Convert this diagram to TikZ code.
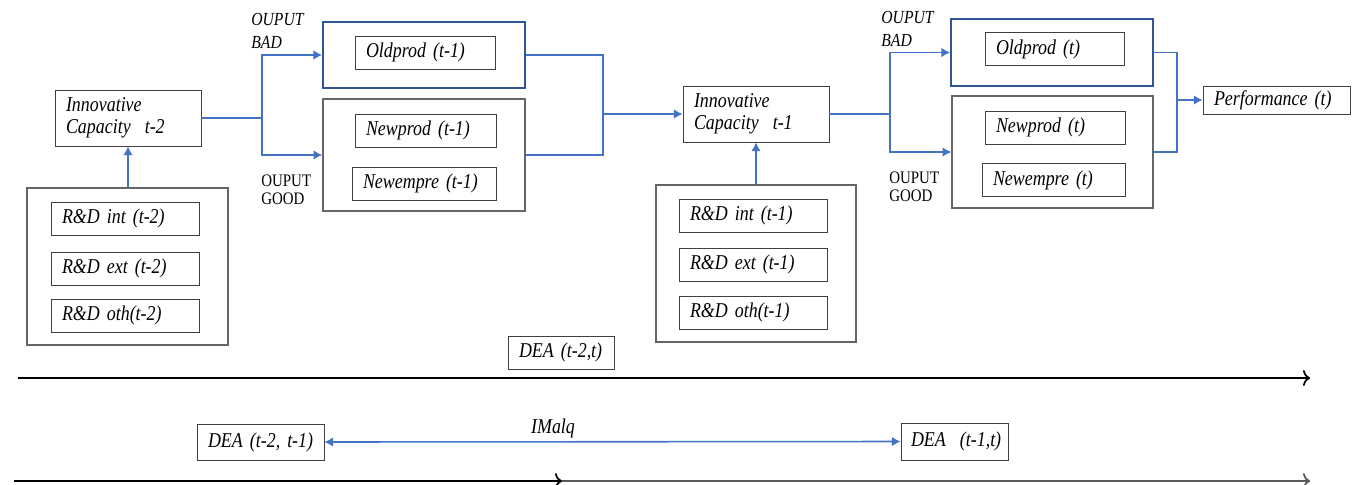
\documentclass[tikz,border=0pt]{standalone}
\usepackage{fontspec}
\setmainfont{Liberation Serif}[FakeStretch=0.85, WordSpace=0.7]
\usetikzlibrary{arrows.meta}
\definecolor{flowblue}{RGB}{68,114,196}
\definecolor{boxblue}{RGB}{47,85,151}
\tikzset{
  box/.style={draw=black!75, line width=0.5pt, inner xsep=0.22cm, inner ysep=0pt,
    align=left, text width=#1, minimum height=0.66cm,
    font=\fontsize{12}{12.5}\selectfont\itshape},
  frame/.style={draw=black!60, line width=0.8pt, inner sep=0pt},
  oldframe/.style={draw=boxblue, line width=1pt, inner sep=0pt},
  line/.style={draw=flowblue, line width=0.9pt},
  flow/.style={line, -{Latex[length=5pt,width=5.5pt]}},
  lbl/.style={align=left, anchor=west, inner sep=0pt},
  timeline/.style={line width=1pt, -{To[length=4pt,width=9pt]}}
}
\begin{document}
\begin{tikzpicture}[x=0.02cm,y=-0.02cm]
  \useasboundingbox (0,0) rectangle (1353,484);

  % period t-2
  \node[box=2.48cm, minimum height=1.12cm] (ic2) at (128,118) {Innovative\\Capacity\ \ t-2};
  \node[frame, minimum width=4.02cm, minimum height=3.14cm] (rd2) at (127.5,266.5) {};
  \node[box=2.52cm] (rdint2) at (125,218.5) {R\&D int (t-2)};
  \node[box=2.52cm] (rdext2) at (125,268.5) {R\&D ext (t-2)};
  \node[box=2.52cm] (rdoth2) at (125,315.5) {R\&D oth(t-2)};

  % outputs t-1
  \node[oldframe, minimum width=4.04cm, minimum height=1.32cm] (old1) at (424,55) {};
  \node[box=2.36cm] (oldprod1) at (425,52.5) {Oldprod (t-1)};
  \node[frame, minimum width=4.04cm, minimum height=2.24cm] (new1) at (424,155) {};
  \node[box=2.38cm] (newprod1) at (425.5,130.5) {Newprod (t-1)};
  \node[box=2.44cm] (newempre1) at (424,183.5) {Newempre (t-1)};

  % period t-1
  \node[box=2.48cm, minimum height=1.12cm] (ic1) at (756,114) {Innovative\\Capacity\ \ t-1};
  \node[frame, minimum width=4.0cm, minimum height=3.14cm] (rd1) at (756,263.5) {};
  \node[box=2.52cm] (rdint1) at (753,215.5) {R\&D int (t-1)};
  \node[box=2.52cm] (rdext1) at (753,264.5) {R\&D ext (t-1)};
  \node[box=2.52cm] (rdoth1) at (753,312.5) {R\&D oth(t-1)};

  % outputs t
  \node[oldframe, minimum width=4.04cm, minimum height=1.34cm] (old0) at (1052,52.5) {};
  \node[box=2.34cm] (oldprod0) at (1054.5,49) {Oldprod (t)};
  \node[frame, minimum width=4.02cm, minimum height=2.24cm] (new0) at (1052.5,152) {};
  \node[box=2.36cm] (newprod0) at (1055,127.5) {Newprod (t)};
  \node[box=2.42cm] (newempre0) at (1053.5,180) {Newempre (t)};
  \node[box=2.5cm, minimum height=0.56cm] (perf) at (1276.5,100) {Performance (t)};

  % labels
  \node[lbl, font=\fontsize{10.5}{13}\selectfont\itshape] (bad1) at (251,31) {OUPUT\\BAD};
  \node[lbl, font=\fontsize{10}{10.5}\selectfont] (good1) at (261,190) {OUPUT\\GOOD};
  \node[lbl, font=\fontsize{10.5}{13}\selectfont\itshape] (bad0) at (881,29) {OUPUT\\BAD};
  \node[lbl, font=\fontsize{10}{10.5}\selectfont] (good0) at (889,186.5) {OUPUT\\GOOD};

  % DEA
  \node[box=1.68cm] (dea20) at (561,352.5) {\mbox{DEA (t-2,t)}};
  \node[box=2.1cm, minimum height=0.72cm] (dea21) at (260.5,442) {\mbox{DEA (t-2, t-1)}};
  \node[box=1.74cm, minimum height=0.74cm, inner xsep=0.2cm] (dea10) at (954.5,441.5) {\mbox{DEA\ \ (t-1,t)}};
  \node[font=\fontsize{12}{12}\selectfont\itshape] (imalq) at (553,428) {IMalq};

  \coordinate (s2) at (262,118);
  \coordinate (j2) at (603,114);
  \coordinate (s1) at (890,114);
  \coordinate (j1) at (1177,100);
  \coordinate (t0) at (18,378);
  \coordinate (t1) at (1310,378);
  \coordinate (b0) at (14,481);
  \coordinate (b1) at (562,481);
  \coordinate (b2) at (1310,481);

  \draw[flow] (ic2.south |- rd2.north) -- (ic2.south);
  \draw[line] (ic2.east) -- (s2);
  \draw[flow] (s2) |- (old1.west);
  \draw[flow] (s2) |- (new1.west);
  \draw[line] (old1.east) -| (j2);
  \draw[line] (new1.east) -| (j2);
  \draw[flow] (j2) -- (ic1.west);
  \draw[flow] (rd1.north) -- (ic1.south);
  \draw[line] (ic1.east) -- (s1);
  \draw[flow] (s1) |- (old0.west);
  \draw[flow] (s1) |- (new0.west);
  \draw[line] (old0.east) -| (j1);
  \draw[line] (new0.east) -| (j1);
  \draw[flow] (j1) -- (perf.west);
  \draw[line, {Latex[length=5pt,width=5.5pt]}-{Latex[length=5pt,width=5.5pt]}] (dea21.east) -- (dea10.west);

  \draw[timeline] (t0) -- (t1);
  \draw[timeline] (b0) -- (b1);
  \draw[timeline, black!65] (b1) -- (b2);
\end{tikzpicture}
\end{document}
